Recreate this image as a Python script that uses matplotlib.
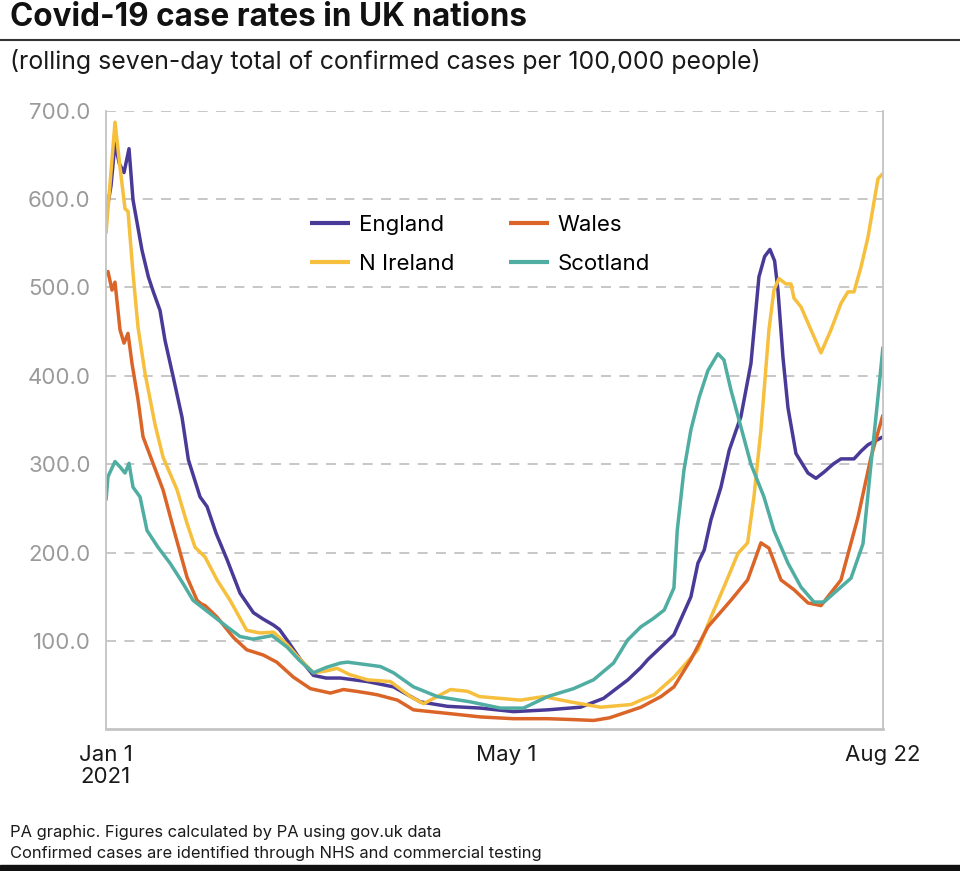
import matplotlib
matplotlib.use("Agg")
from matplotlib import pyplot as plt
from matplotlib.lines import Line2D
from matplotlib.patches import Rectangle

plt.rcParams["font.family"] = ["Inter", "DejaVu Sans"]

# days since 1 Jan 2021, rolling seven-day cases per 100,000
england_days = [0, 1.5, 2.7, 4, 5.4, 6.9, 8.1, 10.8, 12.7, 14.2, 16.2, 17.7, 20.2,
                22.8, 24.7, 28.2, 30.3, 33, 36.3, 40.2, 44.2, 47, 50.2, 52, 54.3,
                58.3, 62.2, 66, 70.3, 78.4, 86.2, 90, 94.3, 102.4, 112.3, 122.2,
                132.4, 142.3, 149.2, 156.5, 160.4, 162.5, 166.4, 170.3, 175.4,
                177.5, 179.4, 181.4, 184.4, 186.9, 190.4, 193.4, 195.8, 197.5,
                199.1, 200.5, 201.5, 203, 204.5, 206.9, 210.5, 212.9, 215.3, 218,
                220.4, 224.3, 226.5, 228.5, 233]
england_vals = [582, 615, 663, 640, 630, 657, 599, 542, 512, 495, 474, 440, 398,
                353, 305, 263, 252, 222, 192, 154, 132, 125, 118, 113, 101,
                79, 61, 58, 58, 54, 48, 40, 31, 26, 24, 20,
                22, 25, 35, 56, 70, 79, 93, 107, 150,
                188, 203, 237, 274, 316, 354, 414, 512, 535,
                543, 530, 497, 421, 364, 312, 290, 284, 291, 300,
                306, 306, 315, 322, 331]

wales_days = [0, 0.6, 1.8, 2.7, 4.2, 5.4, 6.6, 7.8, 9.6, 11.1, 14.1, 17.1, 20.1,
              24.3, 27.3, 28.5, 29.7, 33.3, 38.2, 42.2, 47.2, 51.2, 56.2, 61.3,
              67.3, 71.2, 75, 78.4, 81.4, 87.4, 92.2, 102.4, 112.3, 122.2, 132.4,
              140, 146.2, 151, 156.5, 160.4, 166.4, 170.3, 175.4, 180.5, 187.4,
              192.4, 196.4, 198.8, 202.4, 206.3, 210.5, 214.4, 220.4, 225.5,
              229.4, 233]
wales_vals = [514, 518, 497, 506, 452, 437, 448, 414, 373, 331, 301, 271, 229,
              172, 146, 142, 140, 127, 104, 90, 84, 76, 59, 46,
              41, 45, 43, 41, 39, 33, 22, 18, 14, 12, 12,
              11, 10, 13, 20, 25, 37, 48, 79, 116, 146,
              169, 211, 205, 169, 158, 143, 140, 169, 240,
              308, 356]

nireland_days = [0, 2.7, 4.2, 5.7, 6.6, 8.1, 9.6, 11.7, 14.7, 17.1, 21.3, 24.3,
                 26.7, 29.7, 33.3, 37.2, 42.2, 46.2, 50.2, 54.3, 58, 62.2, 66,
                 69.3, 73, 78.4, 85.3, 91.3, 95.2, 99.3, 103.3, 108.4, 112,
                 124.3, 131.2, 139.3, 148.3, 157.4, 160.4, 164.3, 170.3, 177.5,
                 181.4, 185.3, 189.5, 192.4, 194.3, 196.4, 198.8, 200.3, 201.8,
                 203.9, 205.4, 206.3, 208.4, 211.4, 214.4, 217.4, 220.4, 222.5,
                 224.3, 226.4, 228.5, 231.5, 233]
nireland_vals = [561, 687, 636, 589, 586, 516, 455, 403, 345, 308, 271, 233,
                 206, 195, 169, 146, 112, 109, 110, 96, 80, 64, 66,
                 69, 62, 56, 54, 37, 29, 37, 45, 43, 37,
                 33, 37, 31, 25, 28, 33, 39, 59, 90,
                 127, 161, 199, 211, 263, 339, 452, 497, 510,
                 504, 504, 488, 478, 452, 426, 452, 482, 495,
                 495, 523, 557, 623, 629]

scotland_days = [0, 0.6, 2.7, 4.2, 5.7, 6.9, 8.1, 10.2, 12.3, 15.6, 19.2, 23.1,
                 26.1, 31.2, 36.3, 40.2, 44.1, 49.8, 54.3, 58, 62.2, 66, 70.3,
                 72.4, 78.4, 82.3, 86.2, 92.2, 99.4, 109.3, 118.3, 125.2, 132.4,
                 140.2, 146.2, 152.2, 156.4, 160.4, 164, 167.4, 170.3, 171.3,
                 173.3, 175.4, 177.9, 180.5, 183.5, 185.3, 187.4, 190.4, 193.4,
                 197.3, 200.3, 204.5, 208.4, 212.3, 215.3, 219.5, 223.4, 227,
                 229.4, 231.5, 233]
scotland_vals = [259, 286, 303, 297, 290, 301, 274, 263, 225, 206, 188, 165,
                 146, 131, 116, 105, 102, 106, 93, 78, 64, 70, 75,
                 76, 73, 71, 64, 48, 37, 31, 24, 24, 37,
                 46, 56, 75, 101, 116, 125, 135, 160, 225,
                 293, 339, 376, 406, 425, 418, 384, 342, 300,
                 263, 225, 188, 161, 144, 144, 158, 171, 210,
                 300, 376, 433]

# legend reads row by row: England, Wales / N Ireland, Scotland
series = [
    ("England", england_days, england_vals, "#4a3a97"),
    ("N Ireland", nireland_days, nireland_vals, "#f6bf3d"),
    ("Wales", wales_days, wales_vals, "#db6528"),
    ("Scotland", scotland_days, scotland_vals, "#4fada2"),
]

tick_days = [0, 120, 233]
tick_labels = ["Jan 1\n2021", "May 1", "Aug 22"]
y_ticks = [100, 200, 300, 400, 500, 600, 700]


def main():
    fig = plt.figure(figsize=(9.6, 8.71), dpi=100)
    ax = fig.add_axes([106 / 960, 1 - 729.3 / 871, 777 / 960, 618.6 / 871])

    for name, days, vals, colour in series:
        ax.plot(days, vals, color=colour, lw=2.5, label=name,
                solid_joinstyle="round", solid_capstyle="butt")

    ax.set_xlim(0, 233)
    ax.set_ylim(0, 700)
    ax.set_yticks(y_ticks)
    ax.set_yticklabels([f"{v:.1f}" for v in y_ticks])
    ax.set_xticks(tick_days)
    ax.set_xticklabels(tick_labels, linespacing=1.15)
    ax.tick_params(axis="y", length=0, pad=11, labelsize=16, labelcolor="#9a9a9a")
    ax.tick_params(axis="x", length=0, pad=11, labelsize=16, labelcolor="#1a1a1a")

    ax.grid(axis="y", color="#bdbdbd", lw=1.2, linestyle=(0, (6, 5)))
    ax.set_axisbelow(True)
    for side in ["left", "right", "bottom"]:
        ax.spines[side].set_color("#c4c4c4")
        ax.spines[side].set_linewidth(1.3)
    ax.spines["bottom"].set_linewidth(2)
    ax.spines["top"].set_visible(False)

    ax.legend(ncol=2, loc="upper left", bbox_to_anchor=(0.248, 0.85),
              frameon=False, fontsize=16, handlelength=1.8, handletextpad=0.4,
              columnspacing=2.45, labelspacing=0.88, borderpad=0)
    for line in ax.get_legend().get_lines():
        line.set_linewidth(3)

    fig.text(10 / 960, 1 - 18 / 871, "Covid-19 case rates in UK nations",
             fontsize=22.7, fontweight="bold", va="center", color="#111111")
    fig.add_artist(Line2D([0, 1], [1 - 40 / 871, 1 - 40 / 871], color="#333333", lw=1.5))
    fig.text(10 / 960, 1 - 61 / 871,
             "(rolling seven-day total of confirmed cases per 100,000 people)",
             fontsize=17.9, va="center", color="#1a1a1a")
    fig.text(10 / 960, 1 - 832 / 871,
             "PA graphic. Figures calculated by PA using gov.uk data",
             fontsize=11.9, va="center", color="#1a1a1a")
    fig.text(10 / 960, 1 - 853 / 871,
             "Confirmed cases are identified through NHS and commercial testing",
             fontsize=11.9, va="center", color="#1a1a1a")
    fig.add_artist(Rectangle((0, 0), 1, 6 / 871, transform=fig.transFigure,
                             color="#111111"))

    fig.savefig("out.png", dpi=100)


if __name__ == "__main__":
    main()
